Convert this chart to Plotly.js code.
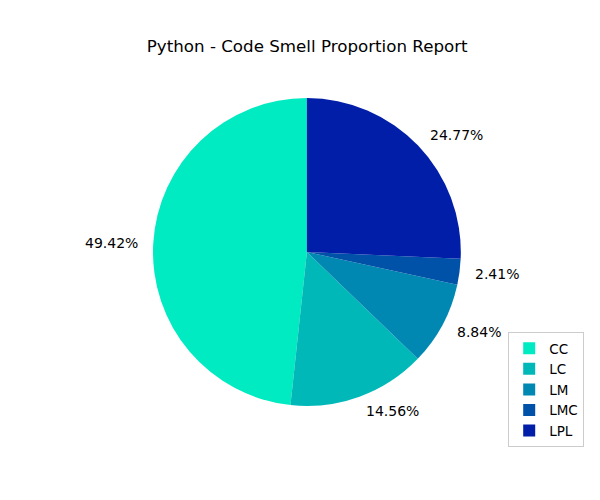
<!DOCTYPE html>
<html>
<head>
<meta charset="utf-8">
<script src="https://cdn.plot.ly/plotly-3.0.1.min.js"></script>
<style>html,body{margin:0;padding:0;background:#fff;}#chart{width:600px;height:500px;}</style>
</head>
<body>
<div id="chart"></div>
<script>
const categories = ["CC", "LC", "LM", "LMC", "LPL"];
// wedge sizes as drawn in the picture (degrees, as %)
const wedgeShares = [48.3, 14.5, 8.8, 2.7, 25.7];
// percentage labels as printed next to the wedges
const percentLabels = ["49.42%", "14.56%", "8.84%", "2.41%", "24.77%"];
const sliceColors = ["#00EBC2", "#00B8B8", "#0088B3", "#0052A8", "#001EA8"];
const chartTitle = "Python - Code Smell Proportion Report";

const W = 600, H = 500;
const domX = [0.255, 0.768], domY = [0.188, 0.804];

// Plotly counterclockwise: first slice ends at `rotation`; make it start at 12 o'clock.
const total = wedgeShares.reduce((a, b) => a + b, 0);
const startRotation = 360 - wedgeShares[0] / total * 360;

// label positions just beyond the radius at each wedge's mid-angle
const cx = (domX[0] + domX[1]) / 2, cy = (domY[0] + domY[1]) / 2;
const rPx = Math.min((domX[1] - domX[0]) * W, (domY[1] - domY[0]) * H) / 2;
const annotations = [];
let acc = 0;
wedgeShares.forEach((v, i) => {
  const mid = (90 + (acc + v / 2) / total * 360) * Math.PI / 180;
  acc += v;
  const dx = Math.cos(mid) * rPx * 1.088, dy = Math.sin(mid) * rPx * 1.1;
  annotations.push({
    xref: "paper", yref: "paper",
    x: cx + dx / W, y: cy + dy / H,
    text: percentLabels[i], showarrow: false,
    xanchor: dx > 0 ? "left" : "right", yanchor: "middle",
    font: {family: "DejaVu Sans", size: 14, color: "#000"}
  });
});

const trace = {
  type: "pie",
  labels: categories,
  values: wedgeShares,
  sort: false,
  direction: "counterclockwise",
  rotation: startRotation,
  marker: {colors: sliceColors, line: {width: 0}},
  textinfo: "none",
  hoverinfo: "label",
  domain: {x: domX, y: domY},
  automargin: false
};

const layout = {
  width: W, height: H,
  margin: {l: 0, r: 0, t: 0, b: 0},
  paper_bgcolor: "#fff",
  title: {text: chartTitle, x: 0.512, xanchor: "center", y: 0.908, yanchor: "middle",
          font: {family: "DejaVu Sans", size: 16.7, color: "#000"}},
  showlegend: true,
  legend: {x: 0.847, xanchor: "left", y: 0.106, yanchor: "bottom",
           bordercolor: "#cccccc", borderwidth: 1, bgcolor: "#fff",
           font: {family: "DejaVu Sans", size: 13.5, color: "#000"},
           traceorder: "normal"},
  annotations: annotations
};

Plotly.newPlot("chart", [trace], layout, {displayModeBar: false, staticPlot: true});
</script>
</body>
</html>
